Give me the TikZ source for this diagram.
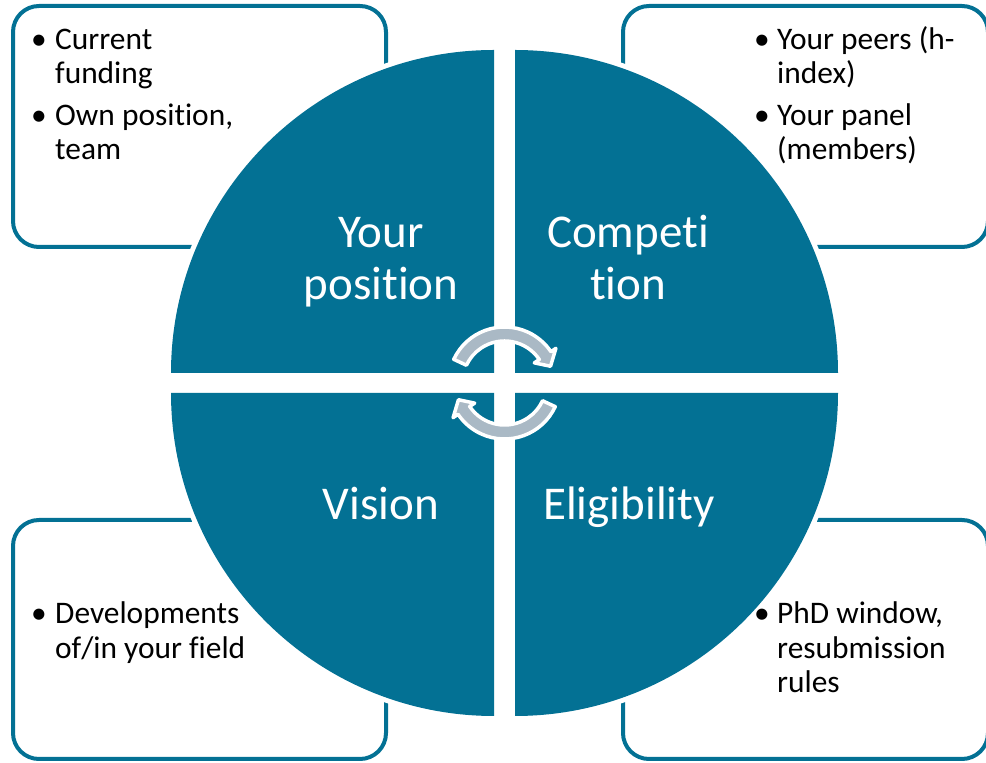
\documentclass[tikz,border=0pt]{standalone}
\usepackage{fontspec}
\setmainfont{Carlito}[Ligatures={NoCommon}]
\definecolor{tealA}{HTML}{037194}
\definecolor{arrowgray}{RGB}{170,185,197}
\begin{document}
\begin{tikzpicture}[x=1pt,y=1pt,
  quad/.style={fill=tealA},
  quadgap/.style={draw=white,line width=10pt},
  infobox/.style={draw=tealA,line width=4pt,rounded corners=26pt},
  quadlabel/.style={text=white,font=\fontsize{47}{52}\selectfont,inner sep=0pt,anchor=base},
  bultext/.style={font=\fontsize{31.4}{34.5}\selectfont,inner sep=0pt,anchor=base west},
  cyc/.style={fill=arrowgray,draw=white,line width=3.5pt,line join=round}]
\useasboundingbox (0,0) rectangle (986,763);
\clip (0,0) rectangle (986,763);
% info boxes
\draw[infobox] (13,757) rectangle (386,516);
\draw[infobox] (623,757) rectangle (988,516);
\draw[infobox] (13,243) rectangle (386,4);
\draw[infobox] (623,243) rectangle (988,4);
% quadrants: white halo then fill
\path[quadgap] (494,390) -- (171,390) arc[start angle=180,end angle=90,radius=323] -- cycle;
\path[quadgap] (515,390) -- (515,713) arc[start angle=90,end angle=0,radius=323] -- cycle;
\path[quadgap] (494,370) -- (494,47) arc[start angle=270,end angle=180,radius=323] -- cycle;
\path[quadgap] (515,370) -- (838,370) arc[start angle=0,end angle=-90,radius=323] -- cycle;
\fill[quad] (494,390) -- (171,390) arc[start angle=180,end angle=90,radius=323] -- cycle;
\fill[quad] (515,390) -- (515,713) arc[start angle=90,end angle=0,radius=323] -- cycle;
\fill[quad] (494,370) -- (494,47) arc[start angle=270,end angle=180,radius=323] -- cycle;
\fill[quad] (515,370) -- (838,370) arc[start angle=0,end angle=-90,radius=323] -- cycle;
% cycle arrows
\begin{scope}[shift={(504.5,380)}]
\draw[cyc] (155:56) arc[start angle=155,end angle=34,radius=56] -- (34:62) -- (20:49) -- (34:36) -- (34:42) arc[start angle=34,end angle=155,radius=42] -- cycle;
\draw[cyc] (335:56) arc[start angle=335,end angle=214,radius=56] -- (214:62) -- (200:49) -- (214:36) -- (214:42) arc[start angle=214,end angle=335,radius=42] -- cycle;
\end{scope}
% quadrant labels
\node[quadlabel] (yp1) at (381,515) {Your};
\node[quadlabel] (yp2) at (381,463) {position};
\node[quadlabel] (co1) at (628,515) {Competi};
\node[quadlabel] (co2) at (628,463) {tion};
\node[quadlabel] (vi) at (381,243) {Vision};
\node[quadlabel] (el) at (629,243) {Eligibility};
% top-left box text
\node[bultext] (tlb1) at (31,713) {•};
\node[bultext] (tlt1a) at (55,713) {Current};
\node[bultext] (tlt1b) at (55,679) {funding};
\node[bultext] (tlb2) at (31,637) {•};
\node[bultext] (tlt2a) at (55,637) {Own position,};
\node[bultext] (tlt2b) at (55,603) {team};
% top-right box text
\node[bultext] (trb1) at (754,713) {•};
\node[bultext] (trt1a) at (777,713) {Your peers (h-};
\node[bultext] (trt1b) at (777,679) {index)};
\node[bultext] (trb2) at (754,637) {•};
\node[bultext] (trt2a) at (777,637) {Your panel};
\node[bultext] (trt2b) at (777,603) {(members)};
% bottom-left box text
\node[bultext] (blb1) at (31,139) {•};
\node[bultext] (blt1a) at (55,139) {Developments};
\node[bultext] (blt1b) at (55,104.5) {of/in your field};
% bottom-right box text
\node[bultext] (brb1) at (754,139) {•};
\node[bultext] (brt1a) at (777,139) {PhD window,};
\node[bultext] (brt1b) at (777,104.5) {resubmission};
\node[bultext] (brt1c) at (777,70) {rules};
\end{tikzpicture}
\end{document}
